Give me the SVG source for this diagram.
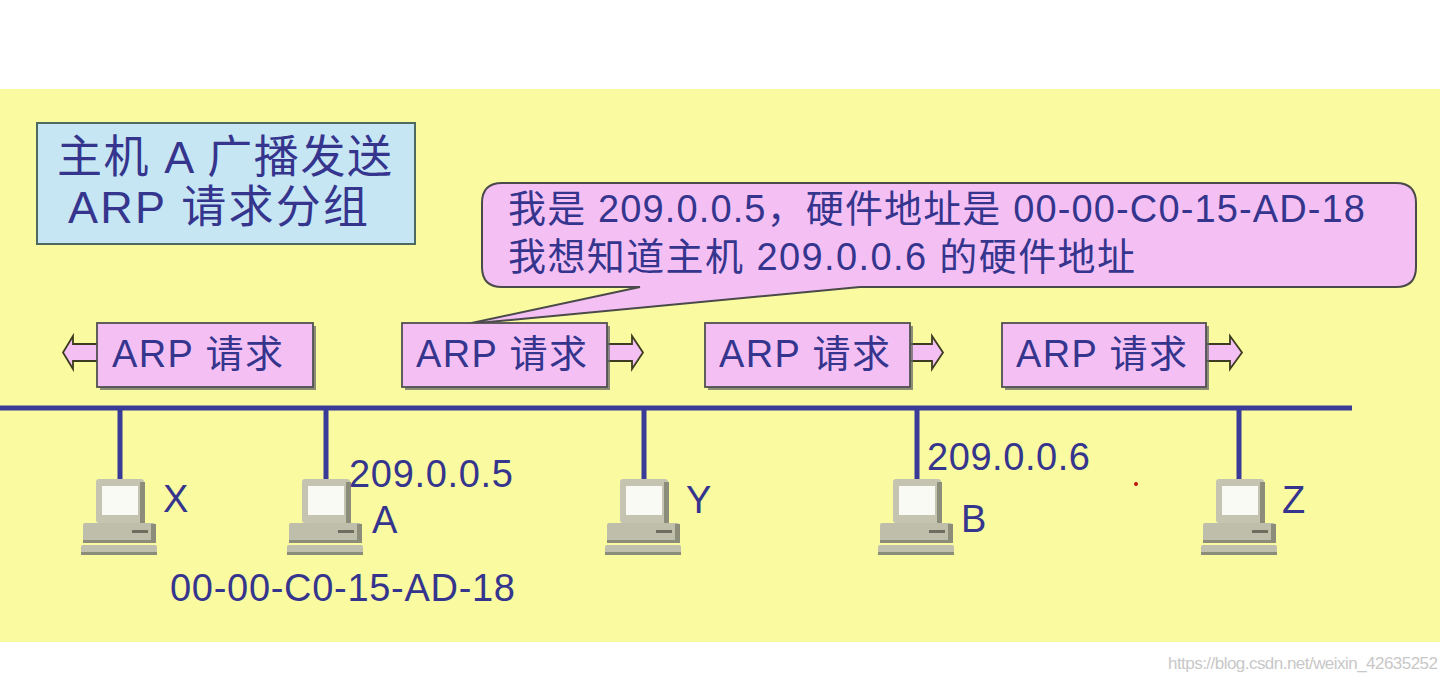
<svg xmlns="http://www.w3.org/2000/svg" xmlns:xlink="http://www.w3.org/1999/xlink" width="1448" height="682" viewBox="0 0 1448 682">
  <style>
    .t { font-family: "Liberation Sans", "Noto Sans CJK SC", sans-serif; fill: #35358E; }
    .lbl { font-size: 38px; }
    .ttl { font-size: 45px; }
    .box { fill: #F4C0F4; stroke: #505050; stroke-width: 1.8; }
    .shadow { fill: #6A6A6A; opacity: 0.75; }
    .arrow { fill: #F4C0F4; stroke: #3C3C20; stroke-width: 1.8; stroke-linejoin: miter; }
    .bus { stroke: #3A3A98; stroke-width: 5; fill: none; }
    .drop { stroke: #3A3A98; stroke-width: 5; fill: none; }
    .wm { font-family: "Liberation Sans", sans-serif; font-size: 17px; fill: #C8C8C8; }
  </style>
  <defs>
    <g id="pc">
      <!-- monitor -->
      <rect x="-24" y="0" width="48" height="44" rx="3" fill="#C4C4B0"/>
      <rect x="20" y="3" width="5" height="41" fill="#8C8C7A"/>
      <rect x="-18" y="7" width="36" height="29" fill="#FAFAF4"/>
      <!-- case -->
      <rect x="-37" y="44" width="72" height="20" rx="2" fill="#BEBEAA"/>
      <rect x="31" y="45" width="5" height="19" fill="#8C8C7A"/>
      <rect x="-37" y="61" width="72" height="3" fill="#8C8C7A"/>
      <rect x="12" y="51" width="16" height="3" fill="#6E6E60"/>
      <!-- base -->
      <rect x="-39" y="66" width="76" height="9" rx="2" fill="#C0C0AC"/>
      <rect x="-39" y="73" width="76" height="3" fill="#8C8C7A"/>
    </g>
  </defs>

  <rect x="0" y="0" width="1448" height="682" fill="#FFFFFF"/>
  <rect id="background" x="0" y="89" width="1440" height="553" fill="#FAFAA0"/>

  <g id="title">
    <rect x="37" y="123" width="378" height="121" fill="#C6E6F4" stroke="#4E6A60" stroke-width="2"/>
    <text class="t ttl" x="57" y="173" textLength="335" lengthAdjust="spacing">主机 A 广播发送</text>
    <text class="t ttl" x="68" y="223" textLength="300" lengthAdjust="spacing">ARP 请求分组</text>
  </g>

  <g id="bubble">
    <path d="M 502,183 H 1396 Q 1416,183 1416,203 V 267 Q 1416,287 1396,287 H 860 L 467,324 L 640,287 H 502 Q 482,287 482,267 V 203 Q 482,183 502,183 Z" fill="#F4C0F4" stroke="#4A4A4A" stroke-width="2"/>
    <text class="t lbl" x="508" y="222" textLength="857" lengthAdjust="spacing">我是 209.0.0.5，硬件地址是 00-00-C0-15-AD-18</text>
    <text class="t lbl" x="508" y="270" textLength="627" lengthAdjust="spacing">我想知道主机 209.0.0.6 的硬件地址</text>
  </g>

  <g id="connectors">
    <line class="bus" x1="0" y1="408" x2="1352" y2="408"/>
    <line class="drop" x1="120" y1="408" x2="120" y2="479"/>
    <line class="drop" x1="326" y1="408" x2="326" y2="479"/>
    <line class="drop" x1="644" y1="408" x2="644" y2="479"/>
    <line class="drop" x1="917" y1="408" x2="917" y2="479"/>
    <line class="drop" x1="1239" y1="408" x2="1239" y2="479"/>
  </g>

  <g id="arp-request-1">
    <polygon class="arrow" points="99,344 73,344 73,336 63,352.5 73,369 73,361 99,361"/>
    <rect class="shadow" x="100" y="326" width="216" height="64"/>
    <rect class="box" x="97" y="323" width="216" height="64"/>
    <text class="t lbl" x="112" y="367" textLength="171" lengthAdjust="spacing">ARP 请求</text>
  </g>

  <g id="arp-request-2">
    <polygon class="arrow" points="605,344 632,344 632,336 643,352.5 632,369 632,361 605,361"/>
    <rect class="shadow" x="405" y="326" width="205" height="64"/>
    <rect class="box" x="402" y="323" width="205" height="64"/>
    <text class="t lbl" x="416" y="367" textLength="171" lengthAdjust="spacing">ARP 请求</text>
  </g>

  <g id="arp-request-3">
    <polygon class="arrow" points="908,344 932,344 932,336 943,352.5 932,369 932,361 908,361"/>
    <rect class="shadow" x="708" y="326" width="205" height="64"/>
    <rect class="box" x="705" y="323" width="205" height="64"/>
    <text class="t lbl" x="719" y="367" textLength="171" lengthAdjust="spacing">ARP 请求</text>
  </g>

  <g id="arp-request-4">
    <polygon class="arrow" points="1205,344 1230,344 1230,336 1242,352.5 1230,369 1230,361 1205,361"/>
    <rect class="shadow" x="1005" y="326" width="204" height="64"/>
    <rect class="box" x="1002" y="323" width="204" height="64"/>
    <text class="t lbl" x="1016" y="367" textLength="171" lengthAdjust="spacing">ARP 请求</text>
  </g>

  <g id="host-X">
    <use xlink:href="#pc" href="#pc" x="120" y="479"/>
    <text class="t lbl" x="163" y="512">X</text>
  </g>

  <g id="host-A">
    <use xlink:href="#pc" href="#pc" x="326" y="479"/>
    <text class="t lbl" x="349" y="487" textLength="164" lengthAdjust="spacing">209.0.0.5</text>
    <text class="t lbl" x="372" y="533">A</text>
    <text class="t lbl" x="170" y="601" textLength="345" lengthAdjust="spacing">00-00-C0-15-AD-18</text>
  </g>

  <g id="host-Y">
    <use xlink:href="#pc" href="#pc" x="644" y="479"/>
    <text class="t lbl" x="686" y="513">Y</text>
  </g>

  <g id="host-B">
    <use xlink:href="#pc" href="#pc" x="917" y="479"/>
    <text class="t lbl" x="927" y="470" textLength="163" lengthAdjust="spacing">209.0.0.6</text>
    <text class="t lbl" x="961" y="532">B</text>
  </g>

  <g id="host-Z">
    <use xlink:href="#pc" href="#pc" x="1240" y="479"/>
    <text class="t lbl" x="1282" y="513">Z</text>
  </g>

  <circle cx="1136" cy="484" r="2" fill="#C01010"/>

  <text class="wm" x="1168" y="669" textLength="270" lengthAdjust="spacing">https://blog.csdn.net/weixin_42635252</text>
</svg>
